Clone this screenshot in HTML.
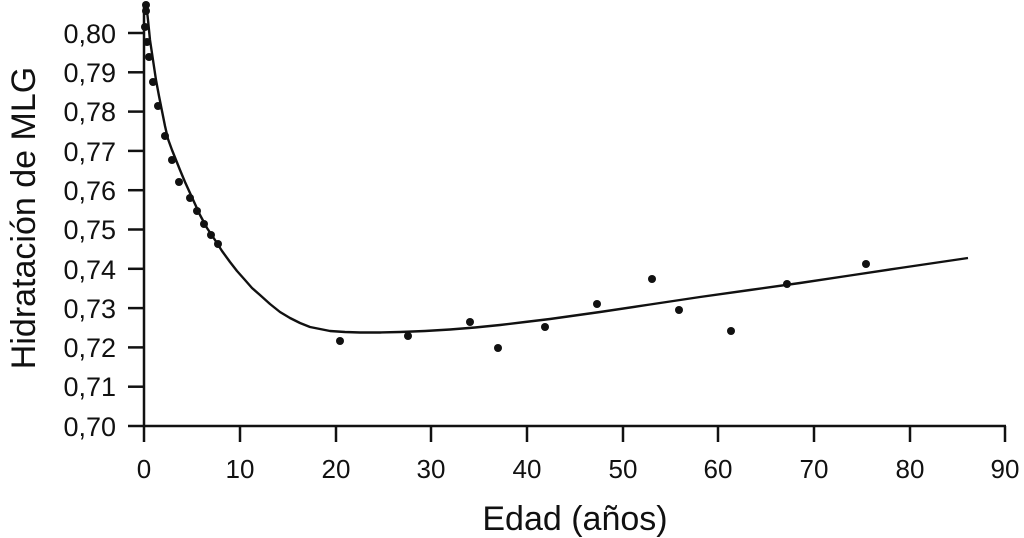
<!DOCTYPE html>
<html><head><meta charset="utf-8"><style>body{margin:0;background:#fff}svg{display:block}text{font-family:"Liberation Sans",sans-serif;fill:#111}</style></head>
<body>
<svg width="1024" height="538" viewBox="0 0 1024 538">
<g stroke="#111" stroke-width="2.5" fill="none">
<line x1="144" y1="4" x2="144" y2="427"/>
<line x1="143" y1="426" x2="1006" y2="426"/>
<line x1="128" y1="33" x2="144" y2="33"/><line x1="128" y1="72.3" x2="144" y2="72.3"/><line x1="128" y1="111.6" x2="144" y2="111.6"/><line x1="128" y1="150.9" x2="144" y2="150.9"/><line x1="128" y1="190.2" x2="144" y2="190.2"/><line x1="128" y1="229.5" x2="144" y2="229.5"/><line x1="128" y1="268.8" x2="144" y2="268.8"/><line x1="128" y1="308.1" x2="144" y2="308.1"/><line x1="128" y1="347.4" x2="144" y2="347.4"/><line x1="128" y1="386.7" x2="144" y2="386.7"/><line x1="128" y1="426" x2="144" y2="426"/>
<line x1="144" y1="426" x2="144" y2="442"/><line x1="240" y1="426" x2="240" y2="442"/><line x1="336" y1="426" x2="336" y2="442"/><line x1="431" y1="426" x2="431" y2="442"/><line x1="527" y1="426" x2="527" y2="442"/><line x1="623" y1="426" x2="623" y2="442"/><line x1="718" y1="426" x2="718" y2="442"/><line x1="814" y1="426" x2="814" y2="442"/><line x1="910" y1="426" x2="910" y2="442"/><line x1="1005" y1="426" x2="1005" y2="442"/>
<polyline stroke-width="2.4" stroke-linejoin="round" points="146,2 148,20 150,40 153,60 156,80 159,96 162,111 165,126 168,139 172,150 176,160 180,170 185,182 190,193 195,204 200,215 207,228 215,240 222,251 230,262 237,271 245,280 252,288 260,295 270,304 280,312 290,318 300,323 310,327 320,329 330,331 345,332 360,332.5 380,332.5 400,332 425,331 450,329.5 475,327.5 500,325 525,322 550,319 575,315.5 600,312 650,304.5 700,297 750,290 800,283 850,275.5 900,268 968,258"/>
</g>
<g font-size="27" text-anchor="end">
<text x="116" y="43">0,80</text><text x="116" y="82">0,79</text><text x="116" y="121">0,78</text><text x="116" y="161">0,77</text><text x="116" y="200">0,76</text><text x="116" y="239">0,75</text><text x="116" y="279">0,74</text><text x="116" y="318">0,73</text><text x="116" y="357">0,72</text><text x="116" y="396">0,71</text><text x="116" y="436">0,70</text>
</g>
<g font-size="26" text-anchor="middle">
<text x="144" y="478">0</text><text x="240" y="478">10</text><text x="336" y="478">20</text><text x="431" y="478">30</text><text x="527" y="478">40</text><text x="623" y="478">50</text><text x="718" y="478">60</text><text x="814" y="478">70</text><text x="910" y="478">80</text><text x="1005" y="478">90</text>
</g>
<text x="575" y="530" font-size="34" text-anchor="middle">Edad (años)</text>
<text transform="translate(35,218) rotate(-90)" font-size="34" text-anchor="middle">Hidratación de MLG</text>
<g fill="#111">
<circle cx="146" cy="5" r="4"/><circle cx="146" cy="11" r="4"/><circle cx="145" cy="27" r="4"/><circle cx="147" cy="42" r="4"/><circle cx="149" cy="57" r="4"/><circle cx="153" cy="82" r="4"/><circle cx="158" cy="106" r="4"/><circle cx="165" cy="136" r="4"/><circle cx="172" cy="160" r="4"/><circle cx="179" cy="182" r="4"/><circle cx="190" cy="198" r="4"/><circle cx="197" cy="211" r="4"/><circle cx="204" cy="224" r="4"/><circle cx="211" cy="235" r="4"/><circle cx="218" cy="244" r="4"/><circle cx="340" cy="341" r="4"/><circle cx="408" cy="336" r="4"/><circle cx="470" cy="322" r="4"/><circle cx="498" cy="348" r="4"/><circle cx="545" cy="327" r="4"/><circle cx="597" cy="304" r="4"/><circle cx="652" cy="279" r="4"/><circle cx="679" cy="310" r="4"/><circle cx="731" cy="331" r="4"/><circle cx="787" cy="284" r="4"/><circle cx="866" cy="264" r="4"/>
</g>
</svg>
</body></html>
